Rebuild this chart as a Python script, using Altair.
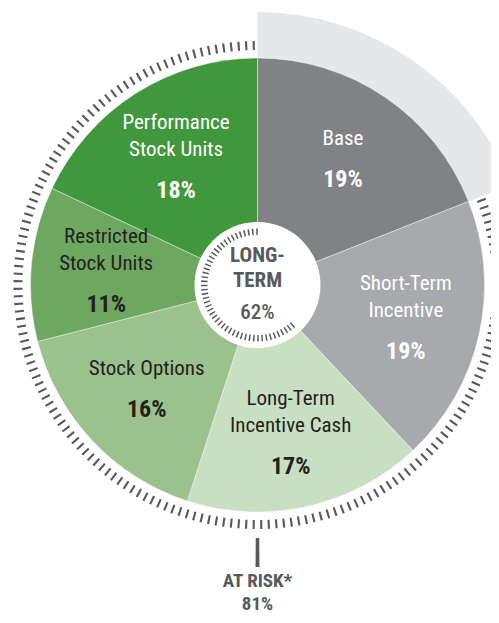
import math
import altair as alt
import pandas as pd
import numpy as np

# ---- data ----
categories = ["Base", "Short-Term\nIncentive", "Long-Term\nIncentive Cash",
              "Stock Options", "Restricted\nStock Units", "Performance\nStock Units"]
values = [19, 19, 17, 16, 11, 18]
pct_labels = ["19%", "19%", "17%", "16%", "11%", "18%"]
slice_colors = ["#808285", "#a7a9ac", "#c8dfc2", "#9bc28c", "#6ea860", "#40973d"]
label_colors = ["#ffffff", "#ffffff", "#231f20", "#231f20", "#231f20", "#ffffff"]

center_title = ["LONG-", "TERM"]
center_value = "62%"          # sum of the four long-term slices
at_risk_title = "AT RISK*"
at_risk_value = "81%"         # everything except Base

FONT = "Roboto Condensed, Liberation Sans Narrow, DejaVu Sans Condensed, Roboto, sans-serif"
TICK = "#58595b"

# ---- tables built from the arrays ----
ends = np.cumsum(values)
starts = ends - np.array(values)
slices = pd.DataFrame({
    "cat": categories,
    "start": starts,
    "end": ends,
    "mid": (starts + ends) / 2,
    "pct": pct_labels,
    "tc": label_colors,
    "nlines": [c.count("\n") + 1 for c in categories],
})

base_end = values[0]
longterm_start = sum(values[:2])

band = pd.DataFrame({"start": [0], "end": [base_end]})
disk = pd.DataFrame({"start": [0], "end": [100]})
outer_ticks = pd.DataFrame({"c": np.arange(base_end + 0.25, 100, 0.5)})
inner_ticks = pd.DataFrame({"c": np.arange(longterm_start + 0.6, 100, 1.25)})
risk = pd.DataFrame({"c": [50], "title": [at_risk_title], "value": [at_risk_value]})
center = pd.DataFrame({"c": [0]})

theta_scale = alt.Scale(domain=[0, 100], range=[0, 2 * math.pi])


def th(field):
    return alt.Theta(field, type="quantitative", scale=theta_scale)


band_layer = alt.Chart(band).mark_arc(radius=227, radius2=273, color="#e6e7e8").encode(
    theta=th("start"), theta2="end")

pie = alt.Chart(slices).mark_arc(radius=227, stroke="#ffffff", strokeWidth=0.4).encode(
    theta=th("start"), theta2="end",
    color=alt.Color("cat:N", scale=alt.Scale(domain=categories, range=slice_colors), legend=None),
)

outer = alt.Chart(outer_ticks).transform_calculate(
    t0="datum.c - 0.07", t1="datum.c + 0.07"
).mark_arc(radius=235, radius2=244, color=TICK).encode(theta=th("t0"), theta2="t1")

disk_layer = alt.Chart(disk).mark_arc(radius=63, color="#ffffff").encode(
    theta=th("start"), theta2="end")

inner = alt.Chart(inner_ticks).transform_calculate(
    t0="datum.c - 0.22", t1="datum.c + 0.22"
).mark_arc(radius=50, radius2=56.5, color=TICK).encode(theta=th("t0"), theta2="t1")


def name_layer(n, dy):
    return alt.Chart(slices).transform_filter(f"datum.nlines == {n}").mark_text(
        radius=152, dy=dy, lineBreak="\n", font=FONT, fontSize=21, lineHeight=27,
        align="center", baseline="middle"
    ).encode(theta=th("mid"), text="cat:N", color=alt.Color("tc:N", scale=None))


def pct_layer(n, dy):
    return alt.Chart(slices).transform_filter(f"datum.nlines == {n}").mark_text(
        radius=152, dy=dy, font=FONT, fontSize=24, fontWeight="bold",
        align="center", baseline="middle"
    ).encode(theta=th("mid"), text="pct:N", color=alt.Color("tc:N", scale=None))


names1 = name_layer(1, -20.5)
names2 = name_layer(2, -34)
pct1 = pct_layer(1, 20.5)
pct2 = pct_layer(2, 34)


def center_text(txt, dy, weight, size):
    return alt.Chart(center).mark_text(
        radius=0, dy=dy, font=FONT, fontSize=size, fontWeight=weight,
        color=TICK, align="center", baseline="middle"
    ).encode(theta=th("c"), text=alt.value(txt))


center_l1 = center_text(center_title[0], -29.5, "bold", 21)
center_l2 = center_text(center_title[1], -4, "bold", 21)
center_v = center_text(center_value, 28, 500, 21)

risk_line = alt.Chart(risk).transform_calculate(
    t0="datum.c - 0.11", t1="datum.c + 0.11"
).mark_arc(radius=253, radius2=282, color=TICK).encode(theta=th("t0"), theta2="t1")

risk_title = alt.Chart(risk).mark_text(
    radius=296, font=FONT, fontSize=19, fontWeight="bold", color=TICK,
    align="center", baseline="middle"
).encode(theta=th("c"), text="title:N")

risk_value = alt.Chart(risk).mark_text(
    radius=319, font=FONT, fontSize=19, fontWeight="bold", color=TICK,
    align="center", baseline="middle"
).encode(theta=th("c"), text="value:N")

chart = alt.layer(
    band_layer, pie, outer, disk_layer, inner, names1, names2, pct1, pct2,
    center_l1, center_l2, center_v, risk_line, risk_title, risk_value
).properties(
    width=467, height=554,
    autosize=alt.AutoSizeParams(type="none"),
    padding={"left": 16, "top": 0, "right": 0, "bottom": 53},
    background="#ffffff",
).configure_view(stroke=None)

chart.save("out.html", embed_options={"renderer": "svg", "actions": False})
